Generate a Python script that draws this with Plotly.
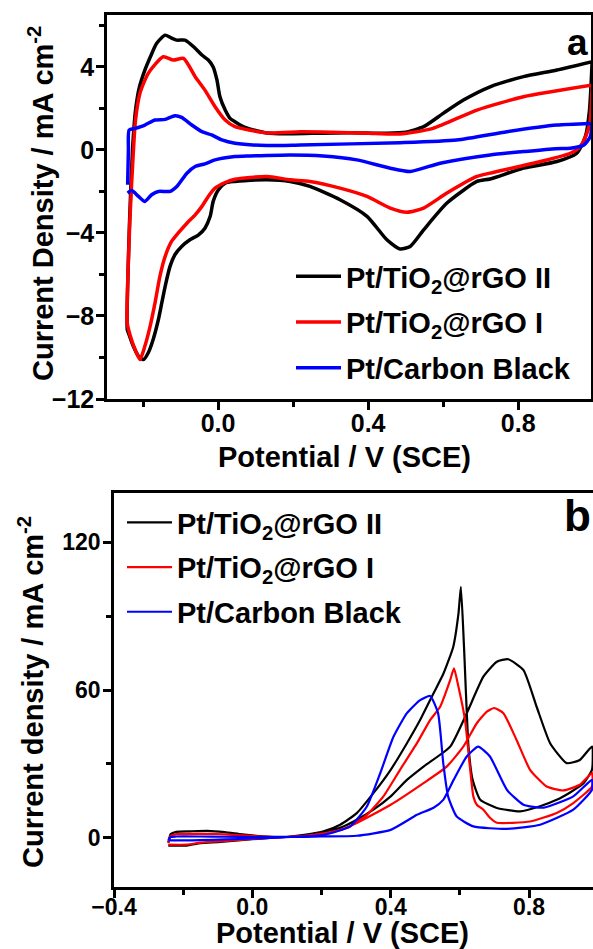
import plotly.graph_objects as go

# ---------------- Panel (a): CV in H2SO4 ----------------
names = ["Pt/TiO<sub>2</sub>@rGO II", "Pt/TiO<sub>2</sub>@rGO I", "Pt/Carbon Black"]
colors = ["#000000", "#ff0000", "#0000ff"]

a_black_fwd_x = [-0.242, -0.236, -0.228, -0.220, -0.210, -0.196, -0.180, -0.164, -0.141, -0.125, -0.110, -0.088,
                 -0.061, -0.043, -0.026, -0.013, -0.003, 0.005, 0.019, 0.032, 0.045, 0.070, 0.094, 0.130, 0.180,
                 0.250, 0.350, 0.450, 0.500, 0.548, 0.600, 0.654, 0.725, 0.814, 0.903, 0.997]
a_black_fwd_y = [-8.65, -3.5, 0.0, 1.9, 3.0, 3.8, 4.5, 5.13, 5.53, 5.40, 5.29, 5.29,
                 4.90, 4.57, 4.33, 4.00, 3.37, 2.56, 1.92, 1.52, 1.36, 1.10, 0.96, 0.82, 0.78,
                 0.80, 0.83, 0.80, 0.85, 1.12, 1.76, 2.40, 3.04, 3.53, 3.85, 4.25]
a_black_bwd_x = [0.997, 0.990, 0.979, 0.956, 0.903, 0.814, 0.725, 0.690, 0.610, 0.548, 0.512, 0.485, 0.450,
                 0.397, 0.325, 0.245, 0.192, 0.130, 0.070, 0.045, 0.019, 0.001, -0.013, -0.021, -0.035, -0.052,
                 -0.075, -0.097, -0.115, -0.128, -0.141, -0.150, -0.159, -0.173, -0.186, -0.199, -0.212,
                 -0.226, -0.239, -0.242]
a_black_bwd_y = [4.25, 1.92, 0.64, -0.16, -0.56, -0.88, -1.40, -1.52, -2.56, -3.85, -4.65, -4.77, -4.33,
                 -3.20, -2.40, -1.76, -1.52, -1.44, -1.48, -1.52, -1.60, -1.92, -2.48, -3.20, -3.77, -4.09,
                 -4.33, -4.65, -5.05, -5.61, -6.57, -7.37, -8.17, -9.13, -9.77, -10.1, -9.94,
                 -9.45, -8.81, -8.65]

a_red_fwd_x = [-0.242, -0.235, -0.226, -0.220, -0.208, -0.186, -0.146, -0.119, -0.092, -0.061, -0.035, -0.008,
               0.019, 0.045, 0.130, 0.220, 0.300, 0.400, 0.485, 0.573, 0.690, 0.814, 0.997]
a_red_fwd_y = [-8.33, -3.37, -0.16, 1.44, 2.74, 3.69, 4.49, 4.33, 4.41, 3.53, 2.88, 2.08,
               1.44, 1.12, 0.82, 0.87, 0.85, 0.80, 0.77, 1.04, 1.92, 2.56, 3.12]
a_red_bwd_x = [0.997, 0.992, 0.983, 0.965, 0.939, 0.859, 0.725, 0.690, 0.610, 0.548, 0.503, 0.459, 0.397,
               0.325, 0.245, 0.192, 0.130, 0.045, 0.019, -0.008, -0.026, -0.043, -0.061, -0.083, -0.106,
               -0.124, -0.141, -0.155, -0.168, -0.181, -0.195, -0.208, -0.221, -0.235, -0.242]
a_red_bwd_y = [3.12, 1.44, 0.80, 0.16, -0.16, -0.56, -1.12, -1.28, -2.08, -2.80, -3.00, -2.80, -2.24,
               -1.84, -1.52, -1.44, -1.28, -1.41, -1.57, -1.84, -2.24, -2.72, -3.13, -3.53, -4.00,
               -4.41, -5.13, -6.09, -7.37, -8.49, -9.45, -10.1, -9.62, -8.89, -8.33]

a_blue_fwd_x = [-0.241, -0.239, -0.237, -0.221, -0.195, -0.168, -0.141, -0.115, -0.097, -0.070, -0.043,
                -0.017, 0.010, 0.045, 0.130, 0.220, 0.485, 0.636, 0.770, 0.903, 0.997]
a_blue_fwd_y = [-1.68, 0.0, 0.96, 1.04, 1.20, 1.44, 1.47, 1.65, 1.57, 1.20, 0.88,
                0.72, 0.48, 0.32, 0.21, 0.24, 0.35, 0.48, 0.88, 1.20, 1.28]
a_blue_bwd_x = [0.997, 0.992, 0.975, 0.939, 0.900, 0.814, 0.725, 0.592, 0.512, 0.459, 0.370, 0.280, 0.192,
                0.085, 0.045, -0.008, -0.035, -0.061, -0.083, -0.110, -0.128, -0.159, -0.177, -0.195,
                -0.212, -0.230, -0.241]
a_blue_bwd_y = [1.28, 0.64, 0.24, 0.08, 0.06, -0.08, -0.24, -0.64, -1.04, -0.88, -0.48, -0.29, -0.24,
                -0.29, -0.32, -0.48, -0.67, -0.80, -1.12, -1.76, -2.00, -2.00, -2.16, -2.48,
                -2.24, -1.96, -2.08]

# ---------------- Panel (b): CV in methanol ----------------
b_black_fwd_x = [-0.243, -0.236, -0.220, -0.180, -0.130, -0.080, -0.030, 0.030, 0.100, 0.150, 0.206, 0.254,
                 0.302, 0.350, 0.400, 0.447, 0.495, 0.572, 0.620, 0.668, 0.707, 0.740, 0.784, 0.822, 0.861,
                 0.909, 0.947, 0.982]
b_black_fwd_y = [-2.0, 1.5, 2.4, 2.6, 2.8, 2.3, 1.4, 0.6, 0.4, 1.0, 2.2, 4.0,
                 7.3, 11.4, 16.8, 23.5, 28.9, 37.0, 50.6, 65.4, 71.5, 72.5, 68.1, 53.2, 38.4,
                 30.3, 31.6, 37.0]
b_black_bwd_x = [0.982, 0.957, 0.920, 0.880, 0.832, 0.774, 0.707, 0.659, 0.637, 0.625, 0.612, 0.603, 0.596,
                 0.581, 0.553, 0.524, 0.485, 0.447, 0.400, 0.350, 0.302, 0.254, 0.206, 0.150, 0.100,
                 0.050, 0.000, -0.050, -0.100, -0.150, -0.190, -0.243]
b_black_bwd_y = [27.6, 22.0, 18.5, 15.4, 12.8, 10.7, 12.1, 15.4, 23.5, 37.0, 77.6, 101.9, 91.0,
                 77.6, 66.8, 58.7, 47.8, 38.4, 27.6, 18.1, 10.0, 5.3, 2.6, 1.2, 0.4,
                 -0.1, -0.6, -1.2, -1.8, -2.2, -3.2, -3.2]

b_red_fwd_x = [-0.243, -0.236, -0.220, -0.180, -0.130, -0.080, -0.030, 0.030, 0.100, 0.150, 0.206, 0.254,
               0.302, 0.400, 0.495, 0.562, 0.610, 0.649, 0.678, 0.699, 0.726, 0.764, 0.803, 0.851, 0.899,
               0.947, 0.982]
b_red_fwd_y = [-2.0, 0.8, 1.5, 1.6, 1.6, 1.4, 1.0, 0.5, 0.3, 0.8, 1.8, 3.2,
               6.0, 13.4, 22.2, 28.9, 37.0, 46.5, 51.2, 52.7, 50.6, 39.7, 27.6, 20.8, 19.2,
               21.5, 26.3]
b_red_bwd_x = [0.982, 0.928, 0.880, 0.803, 0.707, 0.687, 0.668, 0.649, 0.639, 0.630, 0.615, 0.596, 0.583,
               0.572, 0.543, 0.514, 0.476, 0.427, 0.379, 0.331, 0.283, 0.225, 0.150, 0.100, 0.050,
               0.000, -0.050, -0.100, -0.150, -0.190, -0.243]
b_red_bwd_y = [20.8, 14.1, 10.1, 6.6, 6.1, 8.1, 11.4, 13.4, 16.8, 27.6, 47.8, 61.3, 68.8,
               64.0, 53.2, 47.8, 38.4, 27.6, 16.8, 9.3, 4.6, 1.9, 0.8, 0.3, -0.1,
               -0.5, -1.0, -1.5, -2.0, -2.8, -2.8]

b_blue_fwd_x = [-0.243, -0.236, -0.220, -0.150, -0.080, 0.000, 0.110, 0.200, 0.302, 0.400, 0.476, 0.524,
                0.552, 0.582, 0.620, 0.653, 0.687, 0.736, 0.784, 0.842, 0.928, 0.982]
b_blue_fwd_y = [-1.0, 0.3, 0.5, 0.5, 0.4, 0.3, 0.3, 0.5, 0.8, 3.2, 9.3, 12.2,
                15.4, 23.5, 33.0, 37.0, 33.0, 19.5, 13.4, 12.2, 16.8, 23.5]
b_blue_bwd_x = [0.982, 0.928, 0.832, 0.736, 0.639, 0.591, 0.566, 0.552, 0.537, 0.514, 0.485, 0.447, 0.408,
                0.370, 0.331, 0.283, 0.206, 0.110, 0.000, -0.080, -0.150, -0.200, -0.243]
b_blue_bwd_y = [19.5, 11.4, 5.3, 3.6, 4.6, 8.6, 16.8, 30.3, 50.6, 57.6, 55.9, 50.6, 41.0,
                26.3, 12.7, 4.6, 1.2, 0.3, -0.3, -0.7, -1.0, -1.1, -1.1]

# ---------------- Axes ticks ----------------
a_yticks = [-12, -8, -4, 0, 4]
b_yticks = [0, 60, 120]
xticks = [-0.4, 0.0, 0.4, 0.8]

W, H = 593, 949
FONT = "Arial, Liberation Sans, sans-serif"


def fx(px):
    return px / W


def fy(py):
    return 1 - py / H


fig = go.Figure()

panel_a = [(a_black_fwd_x, a_black_fwd_y, a_black_bwd_x, a_black_bwd_y),
           (a_red_fwd_x, a_red_fwd_y, a_red_bwd_x, a_red_bwd_y),
           (a_blue_fwd_x, a_blue_fwd_y, a_blue_bwd_x, a_blue_bwd_y)]
panel_b = [(b_black_fwd_x, b_black_fwd_y, b_black_bwd_x, b_black_bwd_y),
           (b_red_fwd_x, b_red_fwd_y, b_red_bwd_x, b_red_bwd_y),
           (b_blue_fwd_x, b_blue_fwd_y, b_blue_bwd_x, b_blue_bwd_y)]

for i, (xf, yf, xb, yb) in enumerate(panel_a):
    fig.add_trace(go.Scatter(x=xf + xb, y=yf + yb, mode="lines", name=names[i],
                             line=dict(color=colors[i], width=3.5, shape="spline", smoothing=0.6),
                             xaxis="x", yaxis="y", legend="legend", legendgroup="a%d" % i))
for i, (xf, yf, xb, yb) in enumerate(panel_b):
    fig.add_trace(go.Scatter(x=xf + xb, y=yf + yb, mode="lines", name=names[i],
                             line=dict(color=colors[i], width=2.2, shape="spline", smoothing=0.5),
                             xaxis="x2", yaxis="y2", legend="legend2", legendgroup="b%d" % i))


def minor(vals):
    return dict(tickvals=vals, ticks="outside", ticklen=5, tickwidth=2.5, tickcolor="black")


def axis(size, **kw):
    d = dict(showgrid=False, zeroline=False, showline=True, linecolor="black", linewidth=2.5,
             ticks="outside", ticklen=8, tickwidth=2.5, tickcolor="black", automargin=False,
             tickfont=dict(family=FONT, size=size, color="black", weight="bold"))
    d.update(kw)
    return d


fig.update_layout(
    width=W, height=H, margin=dict(l=0, r=0, t=0, b=0, autoexpand=False),
    paper_bgcolor="white", plot_bgcolor="white",
    font=dict(family=FONT, color="black"),
    xaxis=axis(25, domain=[fx(107), fx(591)], range=[-0.296, 0.994], anchor="y", mirror=True,
               tickvals=xticks, tickformat=".1f", minor=minor([-0.2, 0.2, 0.6]), ticklabelstandoff=-8),
    yaxis=axis(25, domain=[fy(399), fy(15)], range=[-12, 6.5], anchor="x", mirror=True,
               tickvals=a_yticks, minor=minor([-10, -6, -2, 2, 6]), ticklabelstandoff=-3),
    xaxis2=axis(23, domain=[fx(114), fx(593)], range=[-0.4, 0.985], anchor="y2", mirror=True,
                tickvals=xticks, tickformat=".1f", minor=minor([-0.2, 0.2, 0.6]), ticklabelstandoff=-10),
    yaxis2=axis(23, domain=[fy(887), fy(493)], range=[-20, 140], anchor="x2",
                tickvals=b_yticks, minor=minor([30, 90]), ticklabelstandoff=-2),
    legend=dict(x=fx(291), y=fy(251), xanchor="left", yanchor="top", bgcolor="rgba(0,0,0,0)",
                font=dict(family=FONT, size=29, color="black", weight="bold"),
                itemwidth=45, tracegroupgap=5),
    legend2=dict(x=fx(122), y=fy(497), xanchor="left", yanchor="top", bgcolor="rgba(0,0,0,0)",
                 font=dict(family=FONT, size=29, color="black", weight="bold"),
                 itemwidth=45, tracegroupgap=4),
    showlegend=True,
)

ann_font = dict(family=FONT, size=29, color="black", weight="bold")
fig.add_annotation(text="Potential / V (SCE)", x=fx(344), y=fy(457), xref="paper", yref="paper",
                   showarrow=False, font=ann_font, xanchor="center", yanchor="middle")
fig.add_annotation(text="Current Density / mA cm<sup>-2</sup>", x=fx(41), y=fy(204), xref="paper", yref="paper",
                   showarrow=False, font=ann_font, textangle=-90, xanchor="center", yanchor="middle")
fig.add_annotation(text="Potential / V (SCE)", x=fx(342), y=fy(933), xref="paper", yref="paper",
                   showarrow=False, font=ann_font, xanchor="center", yanchor="middle")
fig.add_annotation(text="Current density / mA cm<sup>-2</sup>", x=fx(31), y=fy(692), xref="paper", yref="paper",
                   showarrow=False, font=ann_font, textangle=-90, xanchor="center", yanchor="middle")
fig.add_annotation(text="a", x=fx(577), y=fy(42), xref="paper", yref="paper",
                   showarrow=False, font=dict(family=FONT, size=37, color="black", weight="bold"),
                   xanchor="center", yanchor="middle")
fig.add_annotation(text="b", x=1.0, y=fy(515), xref="paper", yref="paper",
                   showarrow=False, font=dict(family=FONT, size=44, color="black", weight="bold"),
                   xanchor="right", yanchor="middle")

fig.write_html(
    "out.html",
    config={"displayModeBar": False},
    post_script="document.body.style.margin='0';document.body.style.overflow='hidden';"
                "document.documentElement.style.overflow='hidden';",
)
